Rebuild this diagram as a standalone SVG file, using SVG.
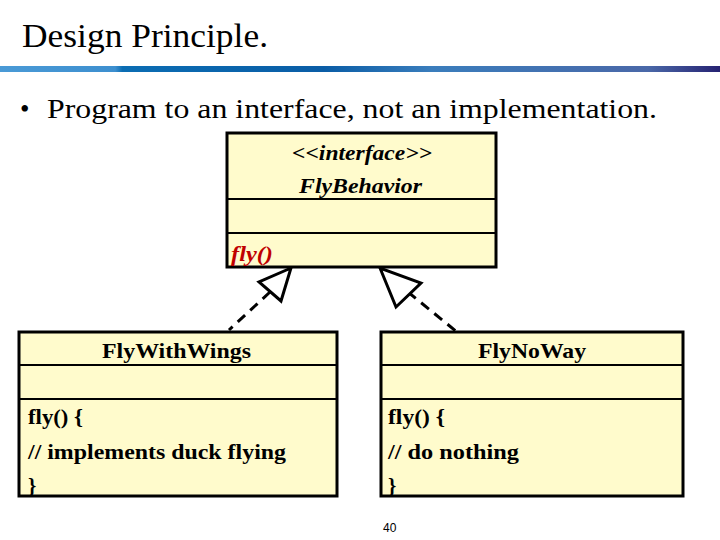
<svg xmlns="http://www.w3.org/2000/svg" width="720" height="540" viewBox="0 0 720 540">
<defs>
<linearGradient id="bar" x1="0" y1="0" x2="1" y2="0">
<stop offset="0" stop-color="#4a9ad6"/>
<stop offset="0.16" stop-color="#3d8fcf"/>
<stop offset="0.17" stop-color="#0b6db3"/>
<stop offset="0.45" stop-color="#0a5da6"/>
<stop offset="0.6" stop-color="#3a7dbc"/>
<stop offset="0.9" stop-color="#4a68a8"/>
<stop offset="1" stop-color="#262272"/>
</linearGradient>
<style>
.serif{font-family:'Liberation Serif','Times New Roman',serif;fill:#000}
.box{fill:#fffbcc;stroke:#000;stroke-width:3}
.div{stroke:#000;stroke-width:2}
.uml{font-family:'Liberation Serif','Times New Roman',serif;font-size:21px;font-weight:bold;fill:#000}
.it{font-style:italic}
.red{fill:#c00000}
.dash{stroke:#000;stroke-width:3;stroke-dasharray:10,7;fill:none}
.tri{fill:#fff;stroke:#000;stroke-width:3;stroke-linejoin:miter}
</style>
</defs>
<rect width="720" height="540" fill="#fff"/>
<text class="serif" x="22" y="47" font-size="34" textLength="246" lengthAdjust="spacingAndGlyphs">Design Principle.</text>
<rect x="0" y="66" width="720" height="6" fill="url(#bar)"/>
<text class="serif" x="20" y="118" font-size="27">•</text>
<text class="serif" x="47" y="118" font-size="27" textLength="610" lengthAdjust="spacingAndGlyphs">Program to an interface, not an implementation.</text>

<g id="connectors">
<line class="dash" x1="270" y1="292" x2="229" y2="330"/>
<polygon class="tri" points="291,268 259,282 281,301"/>
<line class="dash" x1="408" y1="292" x2="457" y2="332"/>
<polygon class="tri" points="380,268 396,307 421,283"/>
</g>

<g id="FlyBehavior">
<rect class="box" x="227" y="133" width="269" height="134"/>
<line class="div" x1="227" y1="199" x2="496" y2="199"/>
<line class="div" x1="227" y1="233" x2="496" y2="233"/>
<text class="uml it" x="292" y="160" textLength="140" lengthAdjust="spacingAndGlyphs">&lt;&lt;interface&gt;&gt;</text>
<text class="uml it" x="299" y="193" textLength="123" lengthAdjust="spacingAndGlyphs">FlyBehavior</text>
<text class="uml it red" x="231" y="261" textLength="42" lengthAdjust="spacingAndGlyphs">fly()</text>
</g>

<g id="FlyWithWings">
<rect class="box" x="19" y="332" width="318" height="164"/>
<line class="div" x1="19" y1="365" x2="337" y2="365"/>
<line class="div" x1="19" y1="399" x2="337" y2="399"/>
<text class="uml" x="102" y="358" textLength="149" lengthAdjust="spacingAndGlyphs">FlyWithWings</text>
<text class="uml" x="28" y="424" textLength="55" lengthAdjust="spacingAndGlyphs">fly() {</text>
<text class="uml" x="28" y="459" textLength="258" lengthAdjust="spacingAndGlyphs">// implements duck flying</text>
<text class="uml" x="28" y="493">}</text>
</g>

<g id="FlyNoWay">
<rect class="box" x="381" y="332" width="302" height="164"/>
<line class="div" x1="381" y1="365" x2="683" y2="365"/>
<line class="div" x1="381" y1="399" x2="683" y2="399"/>
<text class="uml" x="478" y="358" textLength="108" lengthAdjust="spacingAndGlyphs">FlyNoWay</text>
<text class="uml" x="388" y="424" textLength="57" lengthAdjust="spacingAndGlyphs">fly() {</text>
<text class="uml" x="388" y="459" textLength="131" lengthAdjust="spacingAndGlyphs">// do nothing</text>
<text class="uml" x="388" y="493">}</text>
</g>

<text x="383" y="532" font-family="'Liberation Sans',Arial,sans-serif" font-size="12" fill="#000">40</text>
</svg>
